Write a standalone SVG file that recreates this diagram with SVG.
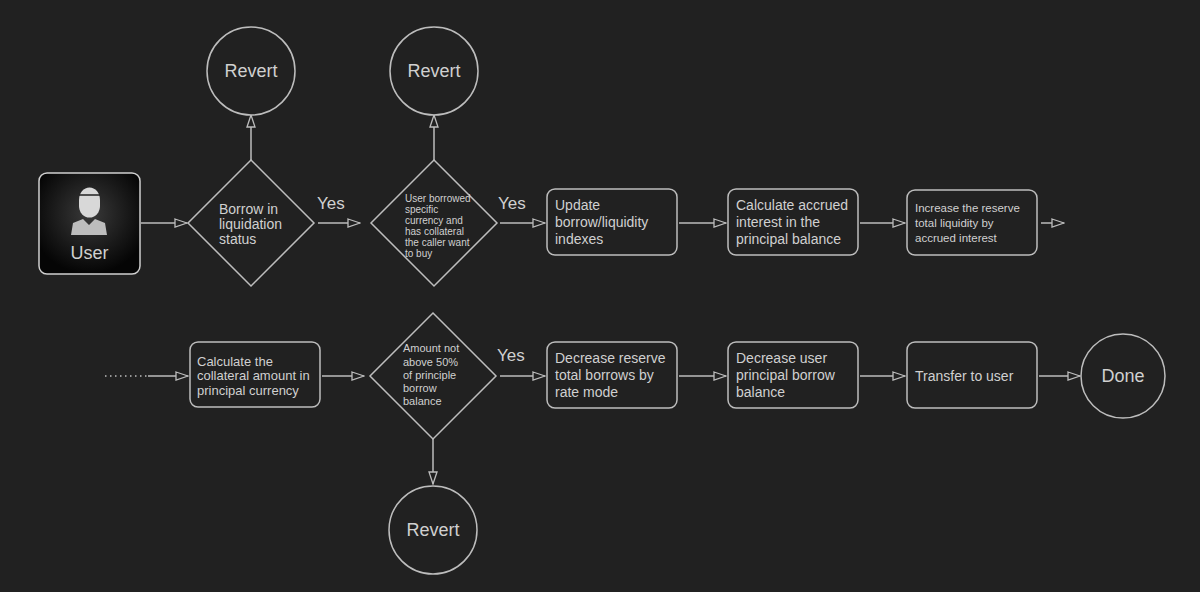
<svg xmlns="http://www.w3.org/2000/svg" width="1200" height="592" viewBox="0 0 1200 592">
<style>
.bg{fill:#212121}
.n{fill:#212121;stroke:#bdbdbd;stroke-width:1.5}
.t{fill:#d0d0d0;font-family:"Liberation Sans",Arial,sans-serif;font-size:14px}
.s{font-size:10px}
.c{font-size:18px}
.y{font-size:17px}
.e{stroke:#bdbdbd;stroke-width:1.5;fill:none}
</style>
<defs>
<marker id="a" markerWidth="14" markerHeight="10" refX="13" refY="5" orient="auto" markerUnits="userSpaceOnUse">
<path d="M1,1 L13,5 L1,9 Z" fill="#212121" stroke="#bdbdbd" stroke-width="1.3"/>
</marker>
<radialGradient id="ug" cx="0.5" cy="0.4" r="0.6">
<stop offset="0" stop-color="#3a3a3a"/><stop offset="1" stop-color="#050505"/>
</radialGradient>
</defs>
<rect class="bg" width="1200" height="592"/>
<g id="connectors">
<line class="e" x1="141" y1="223" x2="187" y2="223" marker-end="url(#a)"/>
<line class="e" x1="318" y1="223" x2="360" y2="223" marker-end="url(#a)"/>
<line class="e" x1="251" y1="160" x2="251" y2="115" marker-end="url(#a)"/>
<line class="e" x1="434" y1="160" x2="434" y2="115" marker-end="url(#a)"/>
<line class="e" x1="500" y1="223" x2="545" y2="223" marker-end="url(#a)"/>
<line class="e" x1="679" y1="223" x2="726" y2="223" marker-end="url(#a)"/>
<line class="e" x1="860" y1="223" x2="905" y2="223" marker-end="url(#a)"/>
<line class="e" x1="1041" y1="223" x2="1064" y2="223" marker-end="url(#a)"/>
<line class="e" x1="105" y1="376" x2="148" y2="376" stroke-dasharray="1.5,3.5"/>
<line class="e" x1="148" y1="376" x2="188" y2="376" marker-end="url(#a)"/>
<line class="e" x1="322" y1="376" x2="364" y2="376" marker-end="url(#a)"/>
<line class="e" x1="433" y1="438" x2="433" y2="484" marker-end="url(#a)"/>
<line class="e" x1="500" y1="376" x2="545" y2="376" marker-end="url(#a)"/>
<line class="e" x1="679" y1="376" x2="726" y2="376" marker-end="url(#a)"/>
<line class="e" x1="860" y1="376" x2="905" y2="376" marker-end="url(#a)"/>
<line class="e" x1="1039" y1="376" x2="1080" y2="376" marker-end="url(#a)"/>
<text class="t y" x="317" y="209">Yes</text>
<text class="t y" x="498" y="209">Yes</text>
<text class="t y" x="497" y="361">Yes</text>
</g>
<g id="user">
<rect x="39" y="173" width="101" height="101" rx="8" fill="url(#ug)" stroke="#cfcfcf" stroke-width="1.5"/>
<path d="M79,200 a10,12 0 0 1 21,0 v6 a10,11 0 0 1 -21,0 Z" fill="#d8d8d8"/>
<path d="M79,195 h21" stroke="#222" stroke-width="1.5"/>
<path d="M71,235 l2,-12 l10,-4 l6,6 l6,-6 l10,4 l2,12 Z" fill="#bdbdbd"/>
<text class="t c" x="89.5" y="259" text-anchor="middle" fill="#e0e0e0">User</text>
</g>
<g id="d1"><path class="n" d="M251,160 L314,223 L251,286 L188,223 Z"/>
<text class="t" x="219" y="214">Borrow in</text><text class="t" x="219" y="229">liquidation</text><text class="t" x="219" y="244">status</text></g>
<g id="r1"><circle class="n" cx="251" cy="71" r="44"/><text class="t c" x="251" y="77" text-anchor="middle">Revert</text></g>
<g id="d2"><path class="n" d="M434,160 L497,223 L434,286 L371,223 Z"/>
<text class="t s" x="405" y="202">User borrowed</text><text class="t s" x="405" y="213">specific</text><text class="t s" x="405" y="224">currency and</text><text class="t s" x="405" y="235">has collateral</text><text class="t s" x="405" y="246">the caller want</text><text class="t s" x="405" y="257">to buy</text></g>
<g id="r2"><circle class="n" cx="434" cy="71" r="44"/><text class="t c" x="434" y="77" text-anchor="middle">Revert</text></g>
<g id="b1"><rect class="n" x="547" y="189" width="130" height="66" rx="8"/>
<text class="t" x="555" y="210">Update</text><text class="t" x="555" y="227">borrow/liquidity</text><text class="t" x="555" y="244">indexes</text></g>
<g id="b2"><rect class="n" x="728" y="189" width="130" height="66" rx="8"/>
<text class="t" x="736" y="210">Calculate accrued</text><text class="t" x="736" y="227">interest in the</text><text class="t" x="736" y="244">principal balance</text></g>
<g id="b3"><rect class="n" x="907" y="190" width="130" height="65" rx="8"/>
<text class="t" x="915" y="212" style="font-size:11.5px">Increase the reserve</text><text class="t" x="915" y="227" style="font-size:11.5px">total liquidity by</text><text class="t" x="915" y="242" style="font-size:11.5px">accrued interest</text></g>
<g id="b4"><rect class="n" x="190" y="342" width="130" height="65" rx="8"/>
<text class="t" x="197" y="366" style="font-size:13px">Calculate the</text><text class="t" x="197" y="380" style="font-size:13px">collateral amount in</text><text class="t" x="197" y="395" style="font-size:13px">principal currency</text></g>
<g id="d3"><path class="n" d="M433,313 L496,376 L433,439 L370,376 Z"/>
<text class="t s" x="403" y="352" style="font-size:11px">Amount not</text><text class="t s" x="403" y="366" style="font-size:11px">above 50%</text><text class="t s" x="403" y="379" style="font-size:11px">of principle</text><text class="t s" x="403" y="392" style="font-size:11px">borrow</text><text class="t s" x="403" y="405" style="font-size:11px">balance</text></g>
<g id="r3"><circle class="n" cx="433" cy="530" r="44"/><text class="t c" x="433" y="536" text-anchor="middle">Revert</text></g>
<g id="b5"><rect class="n" x="547" y="342" width="130" height="66" rx="8"/>
<text class="t" x="555" y="363">Decrease reserve</text><text class="t" x="555" y="380">total borrows by</text><text class="t" x="555" y="397">rate mode</text></g>
<g id="b6"><rect class="n" x="728" y="342" width="130" height="66" rx="8"/>
<text class="t" x="736" y="363">Decrease user</text><text class="t" x="736" y="380">principal borrow</text><text class="t" x="736" y="397">balance</text></g>
<g id="b7"><rect class="n" x="907" y="342" width="130" height="66" rx="8"/>
<text class="t" x="915" y="381">Transfer to user</text></g>
<g id="done"><circle class="n" cx="1123" cy="376" r="42"/><text class="t c" x="1123" y="382" text-anchor="middle">Done</text></g>
</svg>
